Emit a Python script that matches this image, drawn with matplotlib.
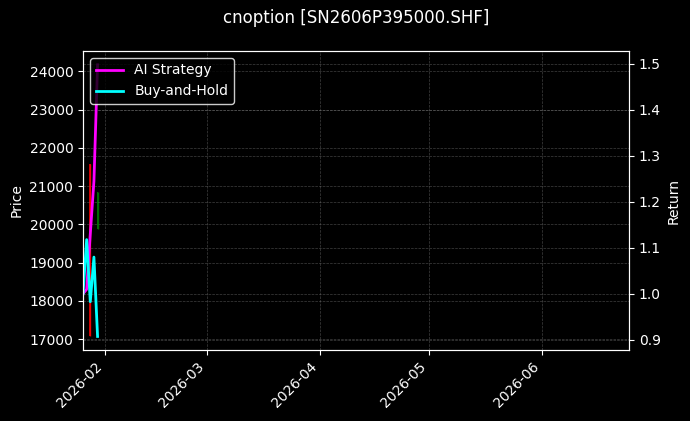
import matplotlib
matplotlib.use("Agg")
from matplotlib import pyplot as plt
import matplotlib.dates as mdates
import numpy as np
import pandas as pd

# values
dates = pd.to_datetime(["2026-01-26", "2026-01-27", "2026-01-28", "2026-01-29", "2026-01-30"])
ai_strategy = [1.0, 1.01, 1.13, 1.245, 1.498]
buy_and_hold = [1.0, 1.118, 0.983, 1.08, 0.9075]

candle_dates = pd.to_datetime(["2026-01-28", "2026-01-30"])
candle_open = [21580, 19890]
candle_close = [17090, 20860]
candle_high = [21580, 20860]
candle_low = [17090, 19890]

x_start = pd.Timestamp("2026-01-26")
x_end = pd.Timestamp("2026-06-25")
price_limits = [16715, 24535]
return_limits = [0.878, 1.528]

plt.style.use("dark_background")
fig = plt.figure(figsize=(6.9, 4.21), dpi=100)
ax = fig.add_axes([0.1203, 0.1686, 0.7913, 0.7103])
ax2 = ax.twinx()

# candles on price axis
for d, o, c, h, l in zip(candle_dates, candle_open, candle_close, candle_high, candle_low):
    color = "green" if c >= o else "red"
    ax.vlines(d, l, h, color=color, linewidth=1, alpha=0.8)
    ax.bar(d, abs(c - o), bottom=min(o, c), width=0.5, color=color, alpha=0.8)

ax2.plot(dates, ai_strategy, color="magenta", linewidth=2, label="AI Strategy")
ax2.plot(dates, buy_and_hold, color="cyan", linewidth=2, label="Buy-and-Hold")

ax.set_xlim(x_start, x_end)
ax.set_ylim(price_limits)
ax2.set_ylim(return_limits)

ax.xaxis.set_major_locator(mdates.MonthLocator())
ax.xaxis.set_major_formatter(mdates.DateFormatter("%Y-%m"))
plt.setp(ax.get_xticklabels(), rotation=45, ha="right")

ax.set_ylabel("Price")
ax2.set_ylabel("Return")
ax.set_title("cnoption [SN2606P395000.SHF]", pad=20)

ax.grid(color="gray", linestyle="--", linewidth=0.5, alpha=0.5)
ax2.grid(color="gray", linestyle="--", linewidth=0.5, alpha=0.5)

ax2.legend(loc="upper left", framealpha=0.8, facecolor="black", edgecolor="white")

fig.savefig("out.png", dpi=100)
